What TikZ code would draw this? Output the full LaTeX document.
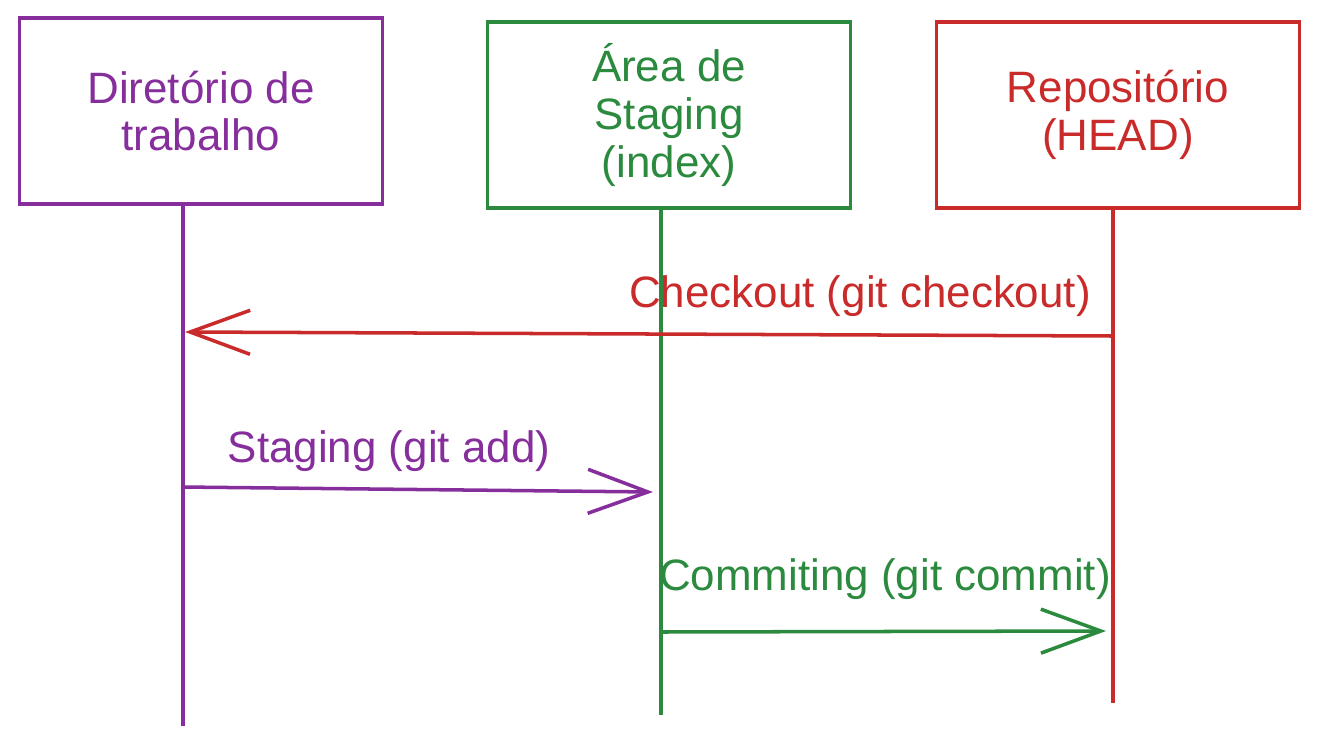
\documentclass[tikz,border=0pt]{standalone}
\usepackage{fontspec}
\setmainfont{Liberation Sans}
\usetikzlibrary{arrows.meta, positioning}
\definecolor{dirpurple}{HTML}{862E9C}
\definecolor{stagegreen}{HTML}{2B8A3E}
\definecolor{repored}{HTML}{C92A2A}

\begin{document}
\begin{tikzpicture}[
  area/.style={rectangle, draw, line width=1pt, align=center, minimum width=3.63cm, minimum height=1.86cm, font=\fontsize{12.5}{13.6}\selectfont},
  lifeline/.style={line width=1pt},
  msg/.style={line width=1pt, -{Straight Barb[length=6mm, width=4.4mm, line width=1pt]}},
  msglabel/.style={font=\fontsize{12.5}{15}\selectfont}
]
\useasboundingbox (0,0) rectangle (13.18,-7.47);

% participantes
\node [area, draw=dirpurple, text=dirpurple] (dir) at (2.01,-1.11) {Diretório de\\trabalho};
\node [area, draw=stagegreen, text=stagegreen] (stage) at (6.69,-1.15) {Área de\\Staging\\(index)};
\node [area, draw=repored, text=repored] (repo) at (11.18,-1.15) {Repositório\\(HEAD)};

% linhas de vida
\coordinate (dirbot) at (1.83,-7.26);
\coordinate (stagebot) at (6.61,-7.15);
\coordinate (repobot) at (11.13,-7.03);
\draw [lifeline, dirpurple] (dir.south -| dirbot) -- (dirbot);
\draw [lifeline, stagegreen] (stage.south -| stagebot) -- (stagebot);
\draw [lifeline, repored] (repo.south -| repobot) -- (repobot);

% mensagens
\coordinate (cofrom) at (11.13,-3.36);
\coordinate (coto) at (1.85,-3.32);
\coordinate (addfrom) at (1.81,-4.87);
\coordinate (addto) at (6.53,-4.92);
\coordinate (cmfrom) at (6.61,-6.32);
\coordinate (cmto) at (11.06,-6.31);
\draw [msg, repored] (cofrom) -- (coto);
\draw [msg, dirpurple] (addfrom) -- (addto);
\draw [msg, stagegreen] (cmfrom) -- (cmto);

\node [msglabel, text=repored] (colabel) at (8.60,-2.96) {Checkout (git checkout)};
\node [msglabel, text=dirpurple] (addlabel) at (3.89,-4.51) {Staging (git add)};
\node [msglabel, text=stagegreen] (cmlabel) at (8.85,-5.79) {Commiting (git commit)};
\end{tikzpicture}
\end{document}
